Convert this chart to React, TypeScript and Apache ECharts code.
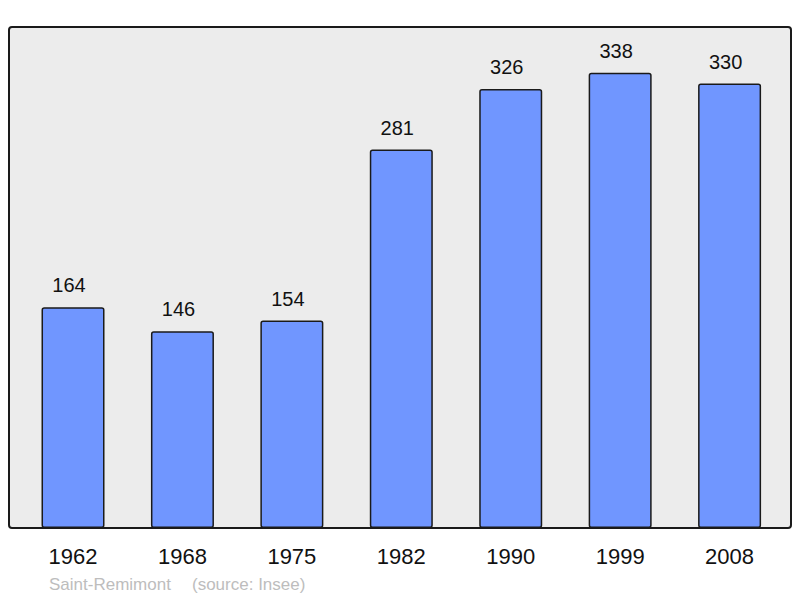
import React, { useEffect, useRef } from "react";
import * as echarts from "echarts";

const years = ["1962", "1968", "1975", "1982", "1990", "1999", "2008"];
const population = [164, 146, 154, 281, 326, 338, 330];
const footerPlace = "Saint-Remimont";
const footerSource = "(source: Insee)";

export default function App() {
  const ref = useRef<HTMLDivElement>(null);
  useEffect(() => {
    if (!ref.current) return;
    const chart = echarts.init(ref.current, null, { renderer: "svg" });
    chart.setOption({
      animation: false,
      textStyle: { fontFamily: "Liberation Sans" },
      graphic: [
        {
          type: "rect",
          z: -10,
          shape: { x: 9, y: 27, width: 782, height: 501, r: 3 },
          style: { fill: "#ececec", stroke: "#1a1a1a", lineWidth: 2 },
          silent: true,
        },
        {
          type: "text",
          x: 49,
          y: 584,
          style: {
            text: footerPlace,
            fill: "#bdbdbd",
            font: "17px Liberation Sans",
            verticalAlign: "middle",
          },
        },
        {
          type: "text",
          x: 192,
          y: 584,
          style: {
            text: footerSource,
            fill: "#bdbdbd",
            font: "17px Liberation Sans",
            verticalAlign: "middle",
          },
        },
      ],
      grid: { left: 18.3, top: 27, width: 766, height: 501, containLabel: false },
      xAxis: {
        type: "category",
        data: years,
        axisLine: { show: false },
        axisTick: { show: false },
        axisLabel: { fontSize: 22, color: "#111", margin: 17 },
      },
      yAxis: {
        type: "value",
        min: 0,
        max: 372,
        show: false,
        splitLine: { show: false },
      },
      series: [
        {
          type: "bar",
          data: population,
          barWidth: 63,
          itemStyle: {
            color: "#7096ff",
            borderColor: "#1a1a1a",
            borderWidth: 1.5,
            borderRadius: 2,
          },
          label: {
            show: true,
            position: "top",
            distance: 12,
            offset: [-4, 0],
            fontSize: 20,
            color: "#111",
          },
        },
      ],
    });
    return () => chart.dispose();
  }, []);
  return (
    <div
      ref={ref}
      style={{ position: "absolute", left: 0, top: 0, width: 800, height: 598 }}
    />
  );
}
